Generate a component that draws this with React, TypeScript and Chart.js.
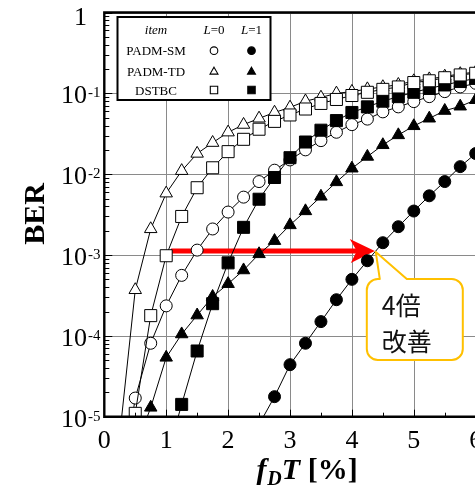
import React, { useEffect, useRef } from "react";
import { Chart, registerables } from "chart.js";

Chart.register(...registerables);

// ---------- data ----------
const X_MIN = 0;
const X_MAX = 7;
const Y_MIN = 1e-5;
const Y_MAX = 1;
const xTickValues = [0, 1, 2, 3, 4, 5, 6];
const xMinorTicks = [0.5, 1.5, 2.5, 3.5, 4.5, 5.5, 6.5];
const yDecades = [0, -1, -2, -3, -4, -5];

// PADM-SM, L=0 (open circle)
const smL0X = [0.25, 0.5, 0.75, 1, 1.25, 1.5, 1.75, 2, 2.25, 2.5, 2.75, 3, 3.25, 3.5, 3.75, 4, 4.25, 4.5, 4.75, 5, 5.25, 5.5, 5.75, 6];
const smL0Y = [1.0e-6, 1.7e-5, 8.1e-5, 2.35e-4, 5.6e-4, 1.15e-3, 2.1e-3, 3.4e-3, 5.2e-3, 8.1e-3, 1.12e-2, 1.5e-2, 2.0e-2, 2.6e-2, 3.3e-2, 4.1e-2, 4.8e-2, 5.9e-2, 6.8e-2, 7.9e-2, 9.1e-2, 0.105, 0.12, 0.133];
// PADM-SM, L=1 (filled circle)
const smL1X = [2.5, 2.75, 3, 3.25, 3.5, 3.75, 4, 4.25, 4.5, 4.75, 5, 5.25, 5.5, 5.75, 6];
const smL1Y = [8e-6, 1.77e-5, 4.4e-5, 8.1e-5, 1.5e-4, 2.8e-4, 5.0e-4, 8.5e-4, 1.42e-3, 2.24e-3, 3.5e-3, 5.4e-3, 8.1e-3, 1.24e-2, 1.8e-2];
// PADM-TD, L=0 (open triangle)
const tdL0X = [0.25, 0.5, 0.75, 1, 1.25, 1.5, 1.75, 2, 2.25, 2.5, 2.75, 3, 3.25, 3.5, 3.75, 4, 4.25, 4.5, 4.75, 5, 5.25, 5.5, 5.75, 6];
const tdL0Y = [6e-6, 3.7e-4, 2.1e-3, 5.8e-3, 1.1e-2, 1.8e-2, 2.45e-2, 3.3e-2, 4.1e-2, 4.9e-2, 5.8e-2, 6.7e-2, 8.0e-2, 8.9e-2, 0.1, 0.105, 0.113, 0.12, 0.128, 0.142, 0.15, 0.162, 0.174, 0.183];
// PADM-TD, L=1 (filled triangle)
const tdL1X = [0.5, 0.75, 1, 1.25, 1.5, 1.75, 2, 2.25, 2.5, 2.75, 3, 3.25, 3.5, 3.75, 4, 4.25, 4.5, 4.75, 5, 5.25, 5.5, 5.75, 6];
const tdL1Y = [4e-6, 1.3e-5, 5.4e-5, 1.05e-4, 1.8e-4, 3.05e-4, 4.4e-4, 6.5e-4, 1.03e-3, 1.5e-3, 2.35e-3, 3.5e-3, 5.3e-3, 8.0e-3, 1.18e-2, 1.65e-2, 2.3e-2, 3.05e-2, 3.95e-2, 4.9e-2, 6.1e-2, 6.9e-2, 8.3e-2];
// DSTBC, L=0 (open square)
const stL0X = [0.25, 0.5, 0.75, 1, 1.25, 1.5, 1.75, 2, 2.25, 2.5, 2.75, 3, 3.25, 3.5, 3.75, 4, 4.25, 4.5, 4.75, 5, 5.25, 5.5, 5.75, 6];
const stL0Y = [3e-7, 1.1e-5, 1.78e-4, 9.8e-4, 3.0e-3, 6.8e-3, 1.2e-2, 1.9e-2, 2.7e-2, 3.6e-2, 4.5e-2, 5.4e-2, 6.4e-2, 7.5e-2, 8.4e-2, 9.4e-2, 0.103, 0.112, 0.12, 0.136, 0.143, 0.156, 0.169, 0.177];
// DSTBC, L=1 (filled square)
const stL1X = [1, 1.25, 1.5, 1.75, 2, 2.25, 2.5, 2.75, 3, 3.25, 3.5, 3.75, 4, 4.25, 4.5, 4.75, 5, 5.25, 5.5, 5.75, 6];
const stL1Y = [3e-6, 1.42e-5, 6.5e-5, 2.5e-4, 8.0e-4, 2.2e-3, 4.9e-3, 9.1e-3, 1.6e-2, 2.5e-2, 3.5e-2, 4.6e-2, 5.8e-2, 6.8e-2, 8.0e-2, 9.1e-2, 0.103, 0.115, 0.127, 0.14, 0.153];

const legendHeader = ["item", "L", "=0", "L", "=1"];
const legendRows = ["PADM-SM", "PADM-TD", "DSTBC"];
const legendShapes = ["circle", "triangle", "rect"];

const arrowStart = { x: 1.08, y: 1.12e-3 };
const arrowEnd = { x: 4.37, y: 1.12e-3 };
const calloutLines = ["4倍", "改善"];

const yTitle = "BER";

// ---------- helpers ----------
const SERIF = '"Liberation Serif", "Times New Roman", serif';
const CJK = '"Noto Sans CJK JP", "Noto Sans", sans-serif';

function pts(xs: number[], ys: number[]) {
  return xs.map((x, i) => ({ x, y: ys[i] }));
}

function drawMarker(ctx: CanvasRenderingContext2D, shape: string, x: number, y: number, s: number, filled: boolean) {
  ctx.beginPath();
  if (shape === "circle") {
    ctx.arc(x, y, s, 0, Math.PI * 2);
  } else if (shape === "triangle") {
    const h = s * 1.5;
    ctx.moveTo(x, y - s);
    ctx.lineTo(x + s * 0.866, y + s * 0.5);
    ctx.lineTo(x - s * 0.866, y + s * 0.5);
    ctx.closePath();
    void h;
  } else {
    ctx.rect(x - s, y - s, 2 * s, 2 * s);
  }
  ctx.fillStyle = filled ? "#000" : "#fff";
  ctx.fill();
  ctx.lineWidth = 1.1;
  ctx.strokeStyle = "#000";
  ctx.stroke();
}

const overlay = {
  id: "overlay",
  beforeDatasetsDraw(chart: any) {
    const { ctx, chartArea: a, scales } = chart;
    const xs = scales.x;
    const ys = scales.y;
    ctx.save();
    // grid
    ctx.strokeStyle = "#8a8a8a";
    ctx.lineWidth = 1;
    ctx.beginPath();
    for (const v of xTickValues) {
      if (v <= X_MIN) continue;
      const px = Math.round(xs.getPixelForValue(v)) + 0.5;
      ctx.moveTo(px, a.top);
      ctx.lineTo(px, a.bottom);
    }
    for (const d of yDecades) {
      const py = Math.round(ys.getPixelForValue(Math.pow(10, d))) + 0.5;
      ctx.moveTo(a.left, py);
      ctx.lineTo(a.right, py);
    }
    ctx.stroke();

    // arrow
    const sx = xs.getPixelForValue(arrowStart.x);
    const tx = xs.getPixelForValue(arrowEnd.x);
    const ty = ys.getPixelForValue(arrowEnd.y);
    ctx.strokeStyle = "#ff0000";
    ctx.fillStyle = "#ff0000";
    ctx.lineWidth = 5;
    ctx.beginPath();
    ctx.moveTo(sx, ty);
    ctx.lineTo(tx - 16, ty);
    ctx.stroke();
    ctx.beginPath();
    ctx.moveTo(tx, ty);
    ctx.lineTo(tx - 25, ty - 12);
    ctx.lineTo(tx - 18, ty);
    ctx.lineTo(tx - 24, ty + 12);
    ctx.closePath();
    ctx.fill();
    ctx.restore();
  },
  afterDatasetsDraw(chart: any) {
    const { ctx, chartArea: a, scales } = chart;
    const xs = scales.x;
    const ys = scales.y;
    ctx.save();

    // minor ticks
    ctx.strokeStyle = "#000";
    ctx.lineWidth = 1;
    ctx.beginPath();
    for (let k = -5; k < 0; k++) {
      for (let m = 2; m <= 9; m++) {
        const py = Math.round(ys.getPixelForValue(m * Math.pow(10, k))) + 0.5;
        ctx.moveTo(a.left, py);
        ctx.lineTo(a.left + 5, py);
      }
    }
    for (const d of yDecades) {
      const py = Math.round(ys.getPixelForValue(Math.pow(10, d))) + 0.5;
      ctx.moveTo(a.left, py);
      ctx.lineTo(a.left + 8, py);
    }
    for (const v of xMinorTicks) {
      const px = Math.round(xs.getPixelForValue(v)) + 0.5;
      ctx.moveTo(px, a.bottom);
      ctx.lineTo(px, a.bottom - 4);
    }
    for (const v of xTickValues) {
      const px = Math.round(xs.getPixelForValue(v)) + 0.5;
      ctx.moveTo(px, a.bottom);
      ctx.lineTo(px, a.bottom - 7);
    }
    ctx.stroke();

    // frame
    ctx.lineWidth = 2.4;
    ctx.beginPath();
    ctx.moveTo(a.right, a.top);
    ctx.lineTo(a.left, a.top);
    ctx.lineTo(a.left, a.bottom);
    ctx.lineTo(a.right, a.bottom);
    ctx.stroke();

    // y tick labels
    ctx.fillStyle = "#000";
    ctx.textBaseline = "alphabetic";
    for (const d of yDecades) {
      const py = ys.getPixelForValue(Math.pow(10, d));
      const base = d === 0 ? "1" : "10";
      const bl = Math.max(py + 10, 25);
      ctx.font = `26px ${SERIF}`;
      ctx.textAlign = "right";
      ctx.fillText(base, 87, bl);
      if (d !== 0) {
        ctx.font = `15px ${SERIF}`;
        ctx.textAlign = "left";
        ctx.fillText(String(d), 88, py + 4);
      }
    }

    // x tick labels
    ctx.font = `26px ${SERIF}`;
    ctx.textAlign = "center";
    for (const v of xTickValues) {
      const px = xs.getPixelForValue(v);
      ctx.fillText(String(v), px, 448);
    }

    // x title: f_D T [%]
    {
      const fF = `italic bold 30px ${SERIF}`;
      const fD = `italic bold 20px ${SERIF}`;
      const fR = `bold 30px ${SERIF}`;
      ctx.textAlign = "left";
      ctx.font = fF;
      const wf = ctx.measureText("f").width;
      const wT = ctx.measureText("T").width;
      ctx.font = fD;
      const wD = ctx.measureText("D").width;
      ctx.font = fR;
      const wR = ctx.measureText(" [%]").width;
      const total = wf + 1 + wD + wT + wR;
      let cx = 307 - total / 2;
      const bl = 479;
      ctx.font = fF;
      ctx.fillText("f", cx, bl);
      cx += wf + 1;
      ctx.font = fD;
      ctx.fillText("D", cx, bl + 6);
      cx += wD;
      ctx.font = fF;
      ctx.fillText("T", cx, bl);
      cx += wT;
      ctx.font = fR;
      ctx.fillText(" [%]", cx, bl);
    }

    // y title
    ctx.save();
    ctx.translate(43.5, 214);
    ctx.rotate(-Math.PI / 2);
    ctx.font = `bold 30px ${SERIF}`;
    ctx.textAlign = "center";
    ctx.textBaseline = "alphabetic";
    ctx.fillText(yTitle, 0, 0);
    ctx.restore();

    // legend box
    {
      const L = 117.5, T = 17, W = 153, H = 83;
      ctx.fillStyle = "#fff";
      ctx.fillRect(L, T, W, H);
      ctx.strokeStyle = "#000";
      ctx.lineWidth = 2;
      ctx.strokeRect(L, T, W, H);
      ctx.fillStyle = "#000";
      const colText = 156;
      const col0 = 214;
      const col1 = 251.5;
      const headerBL = 33.5;
      ctx.textBaseline = "alphabetic";
      ctx.font = `italic 13px ${SERIF}`;
      ctx.textAlign = "center";
      ctx.fillText(legendHeader[0], colText, headerBL);
      const drawLeq = (cxm: number, lab: string, eq: string) => {
        ctx.font = `italic 13px ${SERIF}`;
        const wl = ctx.measureText(lab).width;
        ctx.font = `13px ${SERIF}`;
        const we = ctx.measureText(eq).width;
        const x0 = cxm - (wl + we) / 2;
        ctx.textAlign = "left";
        ctx.font = `italic 13px ${SERIF}`;
        ctx.fillText(lab, x0, headerBL);
        ctx.font = `13px ${SERIF}`;
        ctx.fillText(eq, x0 + wl, headerBL);
      };
      drawLeq(col0, legendHeader[1], legendHeader[2]);
      drawLeq(col1, legendHeader[3], legendHeader[4]);
      const rowsY = [50.7, 71, 90];
      legendRows.forEach((name, i) => {
        ctx.fillStyle = "#000";
        ctx.font = `13px ${SERIF}`;
        ctx.textAlign = "center";
        ctx.fillText(name, colText, rowsY[i] + 4.5);
        const shp = legendShapes[i];
        const s = shp === "circle" ? 3.8 : shp === "triangle" ? 4.6 : 3.7;
        const dy = shp === "triangle" ? 0.8 : 0;
        drawMarker(ctx, shp, col0, rowsY[i] + dy, s, false);
        drawMarker(ctx, shp, col1, rowsY[i] + dy, s, true);
      });
    }

    // callout
    {
      const tx = xs.getPixelForValue(arrowEnd.x);
      const ty = ys.getPixelForValue(arrowEnd.y);
      const Lb = tx - 8, Rb = tx + 88, Tb = ty + 28, Bb = ty + 109, r = 11;
      ctx.beginPath();
      ctx.moveTo(Lb + r, Tb);
      ctx.lineTo(tx + 5, Tb);
      ctx.lineTo(tx + 1, ty + 1);
      ctx.lineTo(tx + 32, Tb);
      ctx.lineTo(Rb - r, Tb);
      ctx.arcTo(Rb, Tb, Rb, Tb + r, r);
      ctx.lineTo(Rb, Bb - r);
      ctx.arcTo(Rb, Bb, Rb - r, Bb, r);
      ctx.lineTo(Lb + r, Bb);
      ctx.arcTo(Lb, Bb, Lb, Bb - r, r);
      ctx.lineTo(Lb, Tb + r);
      ctx.arcTo(Lb, Tb, Lb + r, Tb, r);
      ctx.closePath();
      ctx.fillStyle = "#fff";
      ctx.fill();
      ctx.strokeStyle = "#ffc000";
      ctx.lineWidth = 2;
      ctx.lineJoin = "round";
      ctx.stroke();
      ctx.fillStyle = "#111";
      ctx.font = `25px ${CJK}`;
      ctx.textAlign = "left";
      ctx.textBaseline = "alphabetic";
      ctx.fillText(calloutLines[0], tx + 7, ty + 64);
      ctx.fillText(calloutLines[1], tx + 7, ty + 100);
    }

    ctx.restore();
  },
};

function ds(label: string, data: { x: number; y: number }[], style: string, filled: boolean) {
  const radius = style === "circle" ? 6 : style === "triangle" ? 7.2 : 8.5;
  return {
    label,
    data,
    showLine: true,
    borderColor: "#000",
    borderWidth: 1,
    tension: 0,
    pointStyle: style,
    pointRadius: radius,
    pointHoverRadius: radius,
    pointBackgroundColor: filled ? "#000" : "#fff",
    pointBorderColor: "#000",
    pointBorderWidth: 1,
    fill: false,
  };
}

export default function App() {
  const ref = useRef<HTMLCanvasElement | null>(null);
  useEffect(() => {
    if (!ref.current) return;
    const W = 560;
    const H = 489;
    const chart = new Chart(ref.current, {
      type: "line",
      data: {
        datasets: [
          ds("DSTBC L=0", pts(stL0X, stL0Y), "rect", false),
          ds("DSTBC L=1", pts(stL1X, stL1Y), "rect", true),
          ds("PADM-SM L=0", pts(smL0X, smL0Y), "circle", false),
          ds("PADM-SM L=1", pts(smL1X, smL1Y), "circle", true),
          ds("PADM-TD L=0", pts(tdL0X, tdL0Y), "triangle", false),
          ds("PADM-TD L=1", pts(tdL1X, tdL1Y), "triangle", true),
        ] as any,
      },
      options: {
        animation: false,
        responsive: false,
        devicePixelRatio: 1,
        layout: {
          padding: { left: 104.3, top: 12.5, right: W - (104.3 + 61.9 * X_MAX), bottom: H - 416.7 },
        },
        scales: {
          x: { type: "linear", min: X_MIN, max: X_MAX, display: false },
          y: { type: "logarithmic", min: Y_MIN, max: Y_MAX, display: false },
        },
        plugins: {
          legend: { display: false },
          tooltip: { enabled: false },
        },
        events: [],
      } as any,
      plugins: [overlay as any],
    });
    return () => chart.destroy();
  }, []);
  return (
    <div style={{ position: "fixed", left: 0, top: 0, width: 475, height: 489, overflow: "hidden", background: "#fff" }}>
      <canvas ref={ref} width={560} height={489} style={{ display: "block", width: 560, height: 489 }} />
    </div>
  );
}
